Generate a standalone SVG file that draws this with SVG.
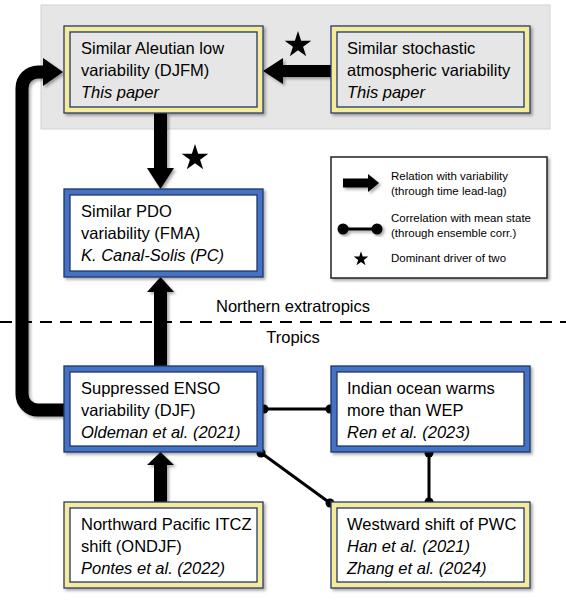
<svg xmlns="http://www.w3.org/2000/svg" xmlns:xlink="http://www.w3.org/1999/xlink" width="566" height="600" viewBox="0 0 566 600">
<style>
.t{font-family:"Liberation Sans",Arial,sans-serif;font-size:16.5px;fill:#000}
.i{font-style:italic}
.lg{font-family:"Liberation Sans",Arial,sans-serif;font-size:11.5px;fill:#000}
.lbl{font-family:"Liberation Sans",Arial,sans-serif;font-size:16.5px;fill:#000;text-anchor:middle}
.bo{fill:#4472C4;stroke:#1F3864;stroke-width:1.3}
.yo{fill:#F4EC9C;stroke:#2A3B66;stroke-width:1.3}
.in{stroke:#1F3864;stroke-width:1.3}
.arr{fill:#000}
.cor{stroke:#000;stroke-width:3;fill:none}
.dot{fill:#000}
</style>
<defs>
<filter id="sh" x="-20%" y="-20%" width="140%" height="140%">
<feDropShadow dx="2" dy="2" stdDeviation="1.5" flood-color="#000" flood-opacity="0.35"/>
</filter>
<path id="star" d="M0,-14 L3.14,-4.33 L13.31,-4.33 L5.09,1.65 L8.23,11.33 L0,5.35 L-8.23,11.33 L-5.09,1.65 L-13.31,-4.33 L-3.14,-4.33 Z"/>
</defs>
<rect width="566" height="600" fill="#fff"/>
<rect id="bg" x="41" y="5" width="509" height="124" fill="#E7E6E6" stroke="#D2D2D2" stroke-width="1"/>
<line x1="0" y1="322" x2="566" y2="322" stroke="#000" stroke-width="2" stroke-dasharray="12 8"/>
<text class="lbl" x="293" y="312">Northern extratropics</text>
<text class="lbl" x="293" y="343">Tropics</text>

<g id="connectors">
<g filter="url(#sh)">
<path class="arr" d="M331,65 L283,65 L283,58 L263,71 L283,84 L283,77 L331,77 Z"/>
<path class="arr" d="M154,113 L154,168 L147,168 L160.5,189 L174,168 L167,168 L167,113 Z"/>
<path class="arr" d="M154,366 L154,292 L147,292 L160.5,277 L174,292 L167,292 L167,366 Z"/>
<path class="arr" d="M154,502 L154,465 L147,465 L160.5,452 L174,465 L167,465 L167,502 Z"/>
<path d="M64,410 L38,410 A16,16 0 0 1 22,394 L22,88 A16,16 0 0 1 38,72 L44,72" fill="none" stroke="#000" stroke-width="13"/>
<path class="arr" d="M43,58 L63,72 L43,86 Z"/>
</g>
<line class="cor" x1="263" y1="409" x2="331" y2="409"/>
<circle class="dot" cx="264" cy="409" r="4.5"/>
<circle class="dot" cx="330" cy="409" r="4.5"/>
<line class="cor" x1="260" y1="452" x2="330" y2="503"/>
<circle class="dot" cx="261" cy="453" r="4.5"/>
<circle class="dot" cx="330" cy="503" r="4.5"/>
<line class="cor" x1="429" y1="452" x2="429" y2="502"/>
<circle class="dot" cx="429" cy="453" r="4.5"/>
<circle class="dot" cx="429" cy="502" r="4.5"/>
</g>

<use xlink:href="#star" href="#star" x="298" y="45"/>
<use xlink:href="#star" href="#star" x="195" y="158"/>

<g id="aleutian">
<rect class="yo" x="64" y="26" width="199" height="87" filter="url(#sh)"/>
<rect class="in" x="70" y="32" width="187" height="75" fill="#E7E6E6"/>
<text class="t" x="81" y="54">Similar Aleutian low</text>
<text class="t" x="81" y="76">variability (DJFM)</text>
<text class="t i" x="81" y="98">This paper</text>
</g>
<g id="stochastic">
<rect class="yo" x="331" y="26" width="199" height="87" filter="url(#sh)"/>
<rect class="in" x="337" y="32" width="187" height="75" fill="#E7E6E6"/>
<text class="t" x="347" y="54">Similar stochastic</text>
<text class="t" x="347" y="76">atmospheric variability</text>
<text class="t i" x="347" y="98">This paper</text>
</g>
<g id="pdo">
<rect class="bo" x="64" y="189" width="199" height="88" filter="url(#sh)"/>
<rect class="in" x="70" y="195" width="187" height="76" fill="#fff"/>
<text class="t" x="81" y="217">Similar PDO</text>
<text class="t" x="81" y="239">variability (FMA)</text>
<text class="t i" x="81" y="261">K. Canal-Solis (PC)</text>
</g>
<g id="legend">
<rect x="331" y="157" width="216" height="121" fill="#fff" stroke="#222" stroke-width="1.5" filter="url(#sh)"/>
<path class="arr" d="M343,178.5 L368,178.5 L368,174 L379,183 L368,192 L368,187.5 L343,187.5 Z" filter="url(#sh)"/>
<text class="lg" x="391" y="180">Relation with variability</text>
<text class="lg" x="391" y="195">(through time lead-lag)</text>
<g filter="url(#sh)">
<line x1="343" y1="229" x2="377" y2="229" stroke="#000" stroke-width="3"/>
<circle class="dot" cx="343" cy="229" r="5.5"/>
<circle class="dot" cx="377" cy="229" r="5.5"/>
</g>
<text class="lg" x="391" y="222">Correlation with mean state</text>
<text class="lg" x="391" y="237">(through ensemble corr.)</text>
<use xlink:href="#star" href="#star" transform="translate(361,259) scale(0.55)"/>
<text class="lg" x="391" y="262">Dominant driver of two</text>
</g>
<g id="enso">
<rect class="bo" x="64" y="366" width="199" height="86" filter="url(#sh)"/>
<rect class="in" x="70" y="372" width="187" height="74" fill="#fff"/>
<text class="t" x="81" y="394">Suppressed ENSO</text>
<text class="t" x="81" y="416">variability (DJF)</text>
<text class="t i" x="81" y="438">Oldeman et al. (2021)</text>
</g>
<g id="indian">
<rect class="bo" x="331" y="366" width="199" height="86" filter="url(#sh)"/>
<rect class="in" x="337" y="372" width="187" height="74" fill="#fff"/>
<text class="t" x="347" y="394">Indian ocean warms</text>
<text class="t" x="347" y="416">more than WEP</text>
<text class="t i" x="347" y="438">Ren et al. (2023)</text>
</g>
<g id="itcz">
<rect class="yo" x="64" y="502" width="199" height="86" filter="url(#sh)"/>
<rect class="in" x="70" y="508" width="187" height="74" fill="#fff"/>
<text class="t" x="81" y="530">Northward Pacific ITCZ</text>
<text class="t" x="81" y="552">shift (ONDJF)</text>
<text class="t i" x="81" y="574">Pontes et al. (2022)</text>
</g>
<g id="pwc">
<rect class="yo" x="331" y="502" width="199" height="86" filter="url(#sh)"/>
<rect class="in" x="337" y="508" width="187" height="74" fill="#fff"/>
<text class="t" x="347" y="530">Westward shift of PWC</text>
<text class="t i" x="347" y="552">Han et al. (2021)</text>
<text class="t i" x="347" y="574">Zhang et al. (2024)</text>
</g>
</svg>
